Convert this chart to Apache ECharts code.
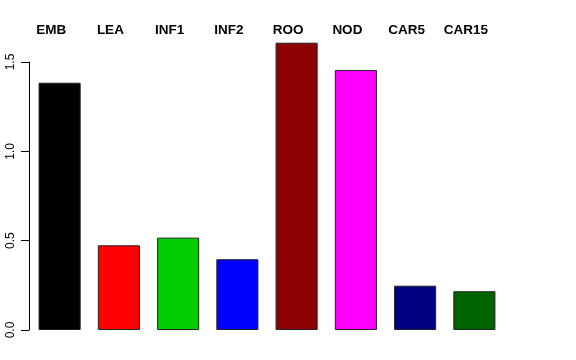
<!DOCTYPE html>
<html>
<head>
<meta charset="utf-8">
<script src="https://cdn.jsdelivr.net/npm/echarts@6/dist/echarts.min.js"></script>
<style>html,body{margin:0;padding:0;background:#fff}#c{width:576px;height:360px}</style>
</head>
<body>
<div id="c"></div>
<script>
const categories = ['EMB','LEA','INF1','INF2','ROO','NOD','CAR5','CAR15'];
const values = [1.384, 0.474, 0.517, 0.396, 1.608, 1.455, 0.248, 0.217];
const colors = ['#000000','#FF0000','#00CD00','#0000FF','#8B0000','#FF00FF','#000080','#006400'];
const yTicks = [0, 0.5, 1.0, 1.5];

const chart = echarts.init(document.getElementById('c'), null, {renderer:'canvas'});
chart.setOption({
  animation: false,
  backgroundColor: '#ffffff',
  grid: {left: 30, right: 72, top: 62, bottom: 30},
  xAxis: {
    type: 'category',
    data: categories,
    position: 'top',
    axisLine: {show: false},
    axisTick: {show: false},
    axisLabel: {
      margin: 25,
      fontFamily: 'Liberation Sans, Arial, sans-serif',
      fontWeight: 'bold',
      fontSize: 13.5,
      color: '#000',
      padding: [0, 17, 0, 0]
    }
  },
  yAxis: {
    type: 'value',
    min: yTicks[0],
    max: yTicks[yTicks.length-1],
    interval: 0.5,
    offset: 1,
    splitLine: {show: false},
    axisLine: {show: true, lineStyle: {color: '#000', width: 1}},
    axisTick: {show: true, length: 8, lineStyle: {color: '#000'}},
    axisLabel: {
      rotate: 90,
      margin: 12,
      fontFamily: 'Liberation Sans, Arial, sans-serif',
      fontSize: 12,
      color: '#000',
      formatter: v => v.toFixed(1)
    }
  },
  series: [{
    type: 'bar',
    clip: false,
    barWidth: '71%',
    data: values.map((v, i) => ({value: v, itemStyle: {color: colors[i]}})),
    itemStyle: {borderColor: '#222', borderWidth: 1}
  }]
});
</script>
</body>
</html>
